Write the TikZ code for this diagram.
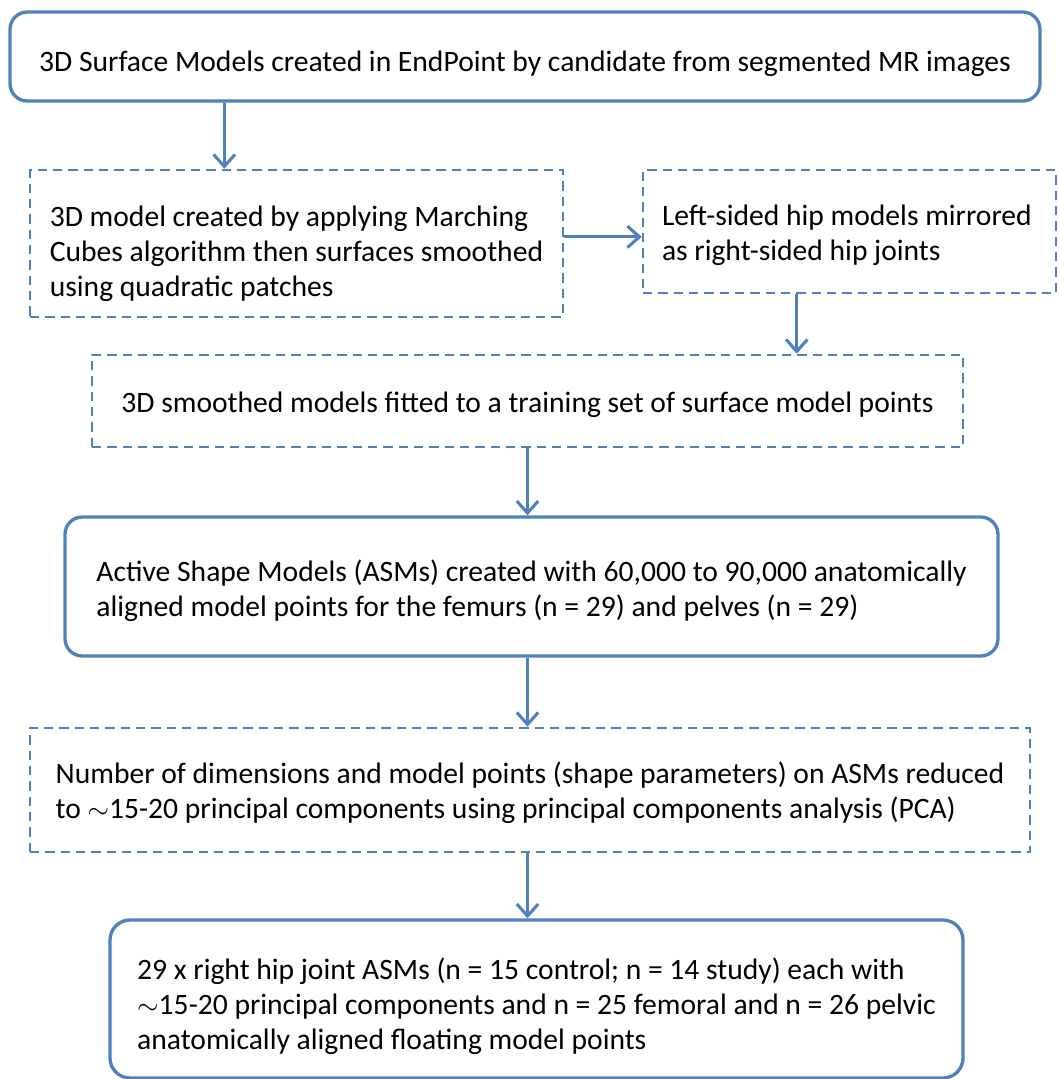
\documentclass[tikz,border=0pt]{standalone}
\usepackage{fontspec}
\setmainfont{Carlito}
\usetikzlibrary{arrows.meta,calc}
\definecolor{boxblue}{RGB}{79,129,189}

\begin{document}
\begin{tikzpicture}[x=0.75pt,y=-0.75pt,>={Straight Barb[length=9pt,width=16pt]}]
       \tikzstyle{every node}=[font=\fontsize{22.2}{26.25}\selectfont]
       \tikzstyle{solidbox}=[draw=boxblue,line width=2.5pt,rounded corners=13pt,align=left,inner sep=0pt,text depth=2pt]
       \tikzstyle{dashbox}=[draw=boxblue,line width=1.9pt,dash pattern=on 7pt off 4.5pt,align=left,inner sep=0pt,text depth=2pt]
       \tikzstyle{flow}=[draw=boxblue,line width=2.3pt,->]

       \clip (0,0) rectangle (1058,1079);

       \node[solidbox,minimum width=772.5pt,minimum height=66.75pt,text height=24.8pt] (surf) at (525,56.5)
         {3D Surface Models created in EndPoint by candidate from segmented MR images};
       \node[dashbox,minimum width=399.75pt,minimum height=110.25pt,text height=80.75pt] (cubes) at (296.5,243.5)
         {3D model created by applying Marching\\Cubes algorithm then surfaces smoothed\\using quadratic patches};
       \node[dashbox,align=flush left,minimum width=309.75pt,minimum height=92.25pt,text width=281.25pt,text height=24pt,text depth=33.75pt] (mirror) at (849.5,231.5)
         {Left-sided hip models mirrored\\as right-sided hip joints};
       \node[dashbox,minimum width=653.25pt,minimum height=69pt,text height=18.5pt] (fit) at (527.5,401)
         {3D smoothed models fitted to a training set of surface model points};
       \node[solidbox,minimum width=699.75pt,minimum height=104.25pt,text height=47.3pt] (asm) at (531.5,586.5)
         {Active Shape Models (ASMs) created with 60,000 to 90,000 anatomically\\aligned model points for the femurs (n = 29) and pelves (n = 29)};
       \node[dashbox,minimum width=750pt,minimum height=93pt,text height=44.4pt] (pca) at (530,790)
         {Number of dimensions and model points (shape parameters) on ASMs reduced\\to $\sim$15-20 principal components using principal components analysis (PCA)};
       \node[solidbox,rounded corners=15pt,minimum width=639.75pt,minimum height=118.5pt,text height=77pt] (hips) at (536.5,999)
         {29 x right hip joint ASMs (n = 15 control; n = 14 study) each with\\$\sim$15-20 principal components and n = 25 femoral and n = 26 pelvic\\anatomically aligned floating model points};

       \coordinate (a1) at ($(surf.south west)!0.209!(surf.south east)$);
       \coordinate (a2) at ([yshift=-4pt]mirror.west);
       \coordinate (a3) at ($(mirror.south west)!0.373!(mirror.south east)$);

       \draw[flow] (a1) -- (a1 |- cubes.north);
       \draw[flow] (a2 -| cubes.east) -- (a2);
       \draw[flow] (a3) -- (a3 |- fit.north);
       \draw[flow] (fit.south) -- (fit.south |- asm.north);
       \draw[flow] (asm.south -| fit.south) -- (fit.south |- pca.north);
       \draw[flow] (pca.south -| fit.south) -- (fit.south |- hips.north);
\end{tikzpicture}
\end{document}
